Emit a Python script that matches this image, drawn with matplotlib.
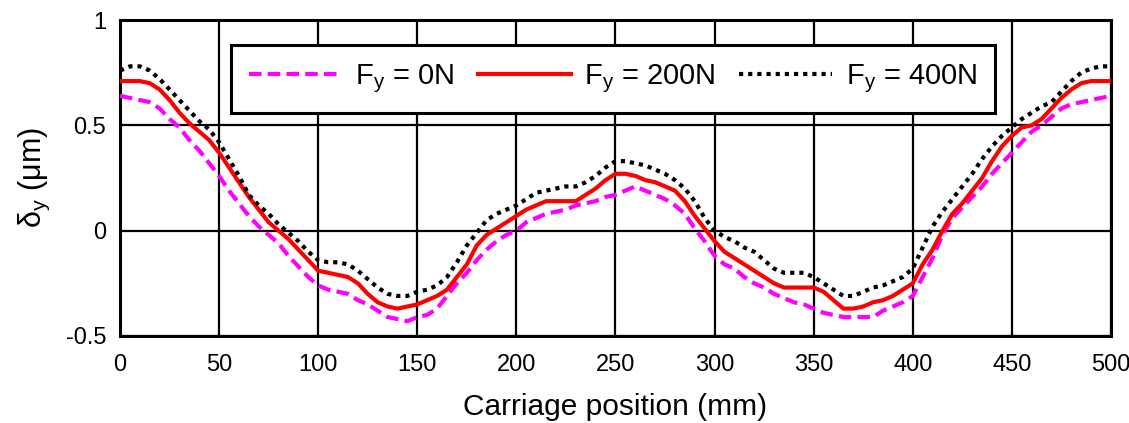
import matplotlib.pyplot as plt
import numpy as np

plt.rcParams['font.family'] = ['Liberation Sans', 'DejaVu Sans']
plt.rcParams['mathtext.fontset'] = 'custom'
plt.rcParams['mathtext.rm'] = 'Liberation Sans'

# carriage position (mm), 5 mm steps
pos = np.arange(0, 505, 5)

fy0 = [0.64, 0.63, 0.62, 0.61, 0.58, 0.53, 0.49, 0.43, 0.38, 0.32,
       0.26, 0.19, 0.13, 0.07, 0.02, -0.02, -0.06, -0.12, -0.17, -0.22,
       -0.26, -0.28, -0.29, -0.30, -0.33, -0.35, -0.38, -0.41, -0.42, -0.43,
       -0.41, -0.40, -0.37, -0.31, -0.25, -0.20, -0.14, -0.09, -0.05, -0.02,
       0.00, 0.04, 0.06, 0.08, 0.09, 0.10, 0.12, 0.13, 0.14, 0.16,
       0.17, 0.19, 0.21, 0.19, 0.17, 0.15, 0.12, 0.08, 0.01, -0.05,
       -0.12, -0.16, -0.18, -0.22, -0.25, -0.27, -0.30, -0.32, -0.34, -0.35,
       -0.37, -0.39, -0.40, -0.41, -0.41, -0.41, -0.41, -0.38, -0.36, -0.34,
       -0.31, -0.22, -0.13, -0.02, 0.06, 0.11, 0.16, 0.21, 0.27, 0.32,
       0.37, 0.42, 0.47, 0.50, 0.54, 0.58, 0.60, 0.61, 0.62, 0.63, 0.64]

fy200 = [0.71, 0.71, 0.71, 0.70, 0.67, 0.62, 0.56, 0.51, 0.47, 0.43,
         0.37, 0.30, 0.23, 0.16, 0.10, 0.04, 0.00, -0.04, -0.09, -0.14,
         -0.19, -0.20, -0.21, -0.22, -0.25, -0.30, -0.34, -0.36, -0.37, -0.36,
         -0.35, -0.33, -0.31, -0.28, -0.22, -0.16, -0.07, -0.02, 0.01, 0.04,
         0.07, 0.10, 0.12, 0.14, 0.14, 0.14, 0.14, 0.17, 0.20, 0.24,
         0.27, 0.27, 0.26, 0.24, 0.23, 0.21, 0.19, 0.14, 0.07, 0.01,
         -0.05, -0.10, -0.13, -0.16, -0.19, -0.22, -0.25, -0.27, -0.27, -0.27,
         -0.27, -0.29, -0.33, -0.37, -0.37, -0.36, -0.34, -0.33, -0.31, -0.28,
         -0.25, -0.16, -0.09, 0.00, 0.08, 0.13, 0.19, 0.25, 0.33, 0.40,
         0.45, 0.49, 0.50, 0.53, 0.58, 0.63, 0.67, 0.70, 0.71, 0.71, 0.71]

fy400 = [0.76, 0.78, 0.78, 0.76, 0.72, 0.67, 0.62, 0.57, 0.52, 0.48,
         0.42, 0.34, 0.26, 0.17, 0.12, 0.08, 0.03, -0.01, -0.05, -0.10,
         -0.14, -0.15, -0.15, -0.16, -0.19, -0.23, -0.27, -0.30, -0.31, -0.31,
         -0.29, -0.28, -0.26, -0.22, -0.15, -0.07, -0.01, 0.05, 0.08, 0.10,
         0.12, 0.15, 0.18, 0.19, 0.20, 0.21, 0.21, 0.23, 0.26, 0.30,
         0.33, 0.33, 0.32, 0.31, 0.29, 0.27, 0.24, 0.20, 0.14, 0.06,
         0.00, -0.03, -0.05, -0.08, -0.10, -0.14, -0.18, -0.20, -0.20, -0.20,
         -0.22, -0.25, -0.28, -0.31, -0.31, -0.29, -0.27, -0.26, -0.24, -0.22,
         -0.18, -0.08, 0.02, 0.09, 0.15, 0.21, 0.27, 0.34, 0.40, 0.45,
         0.49, 0.53, 0.56, 0.59, 0.61, 0.66, 0.71, 0.75, 0.77, 0.78, 0.78]

labels = ['F$_\\mathregular{y}$ = 0N', 'F$_\\mathregular{y}$ = 200N', 'F$_\\mathregular{y}$ = 400N']

fig = plt.figure(figsize=(11.29, 4.23), dpi=100)
ax = fig.add_axes([0.1063, 0.2057, 0.8777, 0.747])

ax.plot(pos, fy0, color='#ff00ff', lw=3, ls=(0, (3, 1.5)), label=labels[0], zorder=3)
ax.plot(pos, fy200, color='#ff0000', lw=3, ls='-', label=labels[1], zorder=3)
ax.plot(pos, fy400, color='black', lw=3, ls=(0, (1, 1.2)), label=labels[2], zorder=3)

ax.set_xlim(0, 500)
ax.set_ylim(-0.5, 1)
ax.set_xticks(range(0, 501, 50))
ax.set_yticks([-0.5, 0, 0.5, 1])
ax.set_yticklabels(['-0.5', '0', '0.5', '1'])
ax.grid(True, color='black', lw=1.6, ls='-')
ax.set_axisbelow(True)
ax.tick_params(length=0, labelsize=17)
ax.tick_params(axis='x', pad=13)
ax.tick_params(axis='y', pad=10)
for s in ax.spines.values():
    s.set_linewidth(2.2)

ax.set_xlabel('Carriage position (mm)', fontsize=21.5, labelpad=12)
ax.set_ylabel('δ$_\\mathregular{y}$ (μm)', fontsize=22, labelpad=10)

leg = ax.legend(loc='center', bbox_to_anchor=(0.4975, 0.813),
                ncol=3, fontsize=21, handlelength=3.2,
                handletextpad=0.45, columnspacing=0.8, fancybox=False,
                framealpha=1, borderpad=0.6)
leg.get_frame().set_edgecolor('black')
leg.get_frame().set_linewidth(2.2)

fig.savefig('out.png', dpi=100)
